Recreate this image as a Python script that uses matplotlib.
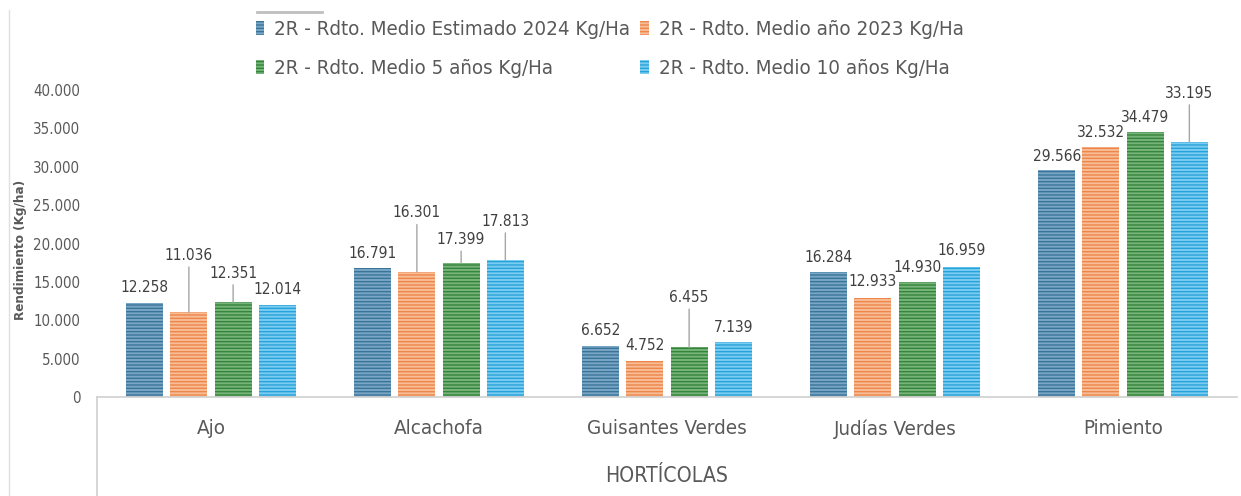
import matplotlib
matplotlib.use("Agg")
import matplotlib.pyplot as plt
from matplotlib import font_manager as fm
from matplotlib.lines import Line2D
import numpy as np

# Datos
categorias = ["Ajo", "Alcachofa", "Guisantes Verdes", "Judías Verdes", "Pimiento"]
series = [
    "2R - Rdto. Medio Estimado 2024 Kg/Ha",
    "2R - Rdto. Medio año 2023 Kg/Ha",
    "2R - Rdto. Medio 5 años Kg/Ha",
    "2R - Rdto. Medio 10 años Kg/Ha",
]
estimado_2024 = [12258, 16791, 6652, 16284, 29566]
medio_2023 = [11036, 16301, 4752, 12933, 32532]
medio_5_anios = [12351, 17399, 6455, 14930, 34479]
medio_10_anios = [12014, 17813, 7139, 16959, 33195]

# Estilo de cada serie: (relleno, rayas)
colores = [("#78a6c4", "#3a7499"), ("#f8bc96", "#ec864a"),
           ("#77b479", "#35843c"), ("#7acdf1", "#27a2da")]

# Desplazamiento vertical de cada etiqueta (pixeles sobre la barra)
desplaz = [
    [15, 15, 15, 15, 14],
    [57, 59, 15, 16, 15],
    [29, 24, 50, 15, 15],
    [15, 39, 15, 16, 49],
]

# Fuente estrecha si existe
fuentes = fm.fontManager.ttflist
nombres = {f.name for f in fuentes}
if "Liberation Sans Narrow" in nombres:
    plt.rcParams["font.family"] = ["Liberation Sans Narrow", "DejaVu Sans"]
    esc = 1.0
elif any(f.name == "DejaVu Sans" and f.stretch == "condensed" for f in fuentes):
    plt.rcParams["font.family"] = ["DejaVu Sans"]
    plt.rcParams["font.stretch"] = "condensed"
    esc = 0.92
else:
    plt.rcParams["font.family"] = ["Liberation Sans", "DejaVu Sans"]
    esc = 0.86
plt.rcParams["hatch.linewidth"] = 1.0
gris = "#595959"

fig = plt.figure(figsize=(12.41, 4.96), dpi=100)
ax = fig.add_axes([97 / 1241, 1 - 397 / 496, 1140 / 1241, 307 / 496])

x = np.arange(len(categorias))
ancho = 0.162
paso = 0.194
valores = [estimado_2024, medio_2023, medio_5_anios, medio_10_anios]

barras = []
for i, (nombre, vals) in enumerate(zip(series, valores)):
    cara, raya = colores[i]
    pos = x + (i - 1.5) * paso
    b = ax.bar(pos, vals, ancho, color=cara, edgecolor=raya, linewidth=0,
               hatch="-----", label=nombre)
    barras.append(b)
    for j, (px, v) in enumerate(zip(pos, vals)):
        d = desplaz[i][j]
        texto = f"{v:,}".replace(",", ".")
        props = None
        if d > 20:
            props = dict(arrowstyle="-", color="#a6a6a6", lw=1,
                         shrinkA=1, shrinkB=0)
        ax.annotate(texto, (px, v), xytext=(0, d), textcoords="offset pixels",
                    ha="center", va="center", fontsize=12 * esc, color="#404040",
                    arrowprops=props)

ax.set_xlim(-0.5, 4.5)
ax.set_ylim(0, 40000)
ax.set_yticks(np.arange(0, 40001, 5000))
ax.set_yticklabels(["0"] + [f"{v:,}".replace(",", ".") for v in range(5000, 40001, 5000)])
ax.set_xticks(x)
ax.set_xticklabels(categorias)
ax.tick_params(axis="y", length=0, pad=12, labelsize=11.8 * esc, labelcolor=gris)
ax.tick_params(axis="x", length=0, pad=16, labelsize=16 * esc, labelcolor=gris)
for s in ["top", "right", "left"]:
    ax.spines[s].set_visible(False)
ax.spines["bottom"].set_color("#d0d0d0")
ax.spines["bottom"].set_linewidth(1.2)

ax.set_ylabel("Rendimiento (Kg/ha)", fontsize=10.5 * esc, fontweight="bold", color=gris)
ax.yaxis.set_label_coords(-0.061, 0.479)

# Línea vertical del eje de categorías
ax.plot([0, 0], [0, -0.33], transform=ax.transAxes, color="#d0d0d0",
        lw=1.2, clip_on=False)

fig.text(667 / 1241, 1 - 476 / 496, "HORTÍCOLAS", ha="center", va="center",
         fontsize=16.5 * esc, color=gris)

# Bordes del gráfico
fig.add_artist(Line2D([8.5 / 1241, 8.5 / 1241], [0, 1 - 10 / 496],
                      color="#e0e0e0", lw=1))
fig.add_artist(Line2D([257 / 1241, 322 / 1241], [1 - 12 / 496, 1 - 12 / 496],
                      color="#bfbfbf", lw=2))

# Leyenda en dos filas: (2024, 2023) y (5 años, 10 años)
orden = [0, 2, 1, 3]
fig.legend([barras[k] for k in orden], [series[k] for k in orden],
           loc="upper left", bbox_to_anchor=(256 / 1241, 1 - 20 / 496), ncol=2,
           frameon=False, fontsize=15.9 * esc, labelcolor=gris, handlelength=0.4,
           handleheight=0.68, handletextpad=0.5, columnspacing=0.5,
           labelspacing=1.0, borderpad=0, borderaxespad=0)

fig.savefig("out.png", dpi=100)
